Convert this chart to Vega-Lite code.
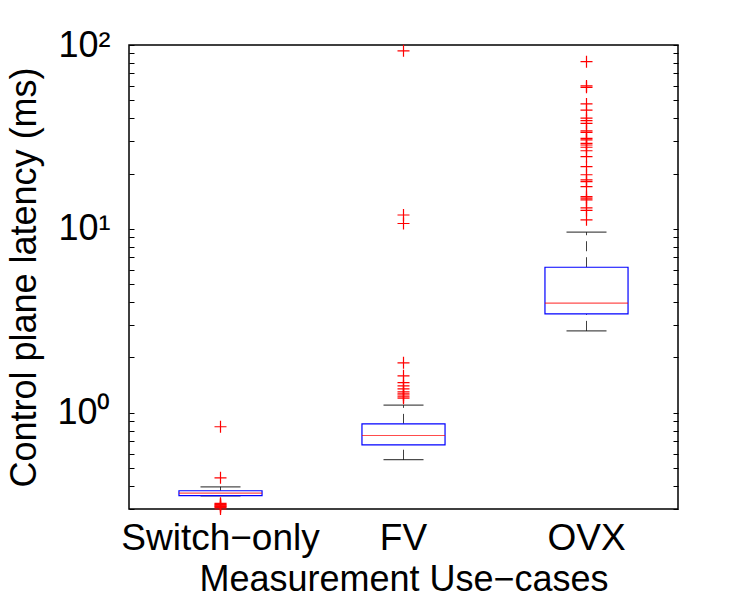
{
  "$schema": "https://vega.github.io/schema/vega-lite/v6.json",
  "autosize": {"type": "none"},
  "padding": {"left": 129, "top": 45, "right": 72, "bottom": 91},
  "width": 549,
  "height": 464,
  "background": "white",
  "config": {
    "font": "Liberation Sans",
    "view": {"stroke": "#000000", "strokeWidth": 1.5},
    "axis": {"grid": false, "domain": false, "labelColor": "#000", "titleColor": "#000", "labelFontWeight": "normal", "titleFontWeight": "normal"}
  },
  "datasets": {
    "stats": [
      {"cat": "Switch−only", "lo": 0.354, "q1": 0.355, "med": 0.366, "q3": 0.377, "hi": 0.396},
      {"cat": "FV", "lo": 0.556, "q1": 0.670, "med": 0.753, "q3": 0.871, "hi": 1.10},
      {"cat": "OVX", "lo": 2.79, "q1": 3.45, "med": 3.95, "q3": 6.19, "hi": 9.6}
    ],
    "out": [
      {"cat": "Switch−only", "v": 0.84},
      {"cat": "Switch−only", "v": 0.443},
      {"cat": "Switch−only", "v": 0.322},
      {"cat": "Switch−only", "v": 0.318},
      {"cat": "Switch−only", "v": 0.315},
      {"cat": "Switch−only", "v": 0.312},
      {"cat": "Switch−only", "v": 0.309},
      {"cat": "Switch−only", "v": 0.306},
      {"cat": "Switch−only", "v": 0.300},
      {"cat": "FV", "v": 93},
      {"cat": "FV", "v": 11.9},
      {"cat": "FV", "v": 10.7},
      {"cat": "FV", "v": 1.87},
      {"cat": "FV", "v": 1.59},
      {"cat": "FV", "v": 1.46},
      {"cat": "FV", "v": 1.40},
      {"cat": "FV", "v": 1.35},
      {"cat": "FV", "v": 1.30},
      {"cat": "FV", "v": 1.27},
      {"cat": "FV", "v": 1.25},
      {"cat": "FV", "v": 1.22},
      {"cat": "FV", "v": 1.20},
      {"cat": "OVX", "v": 81.2},
      {"cat": "OVX", "v": 59.9},
      {"cat": "OVX", "v": 58.9},
      {"cat": "OVX", "v": 47.8},
      {"cat": "OVX", "v": 44.3},
      {"cat": "OVX", "v": 40.0},
      {"cat": "OVX", "v": 38.8},
      {"cat": "OVX", "v": 37.5},
      {"cat": "OVX", "v": 34.1},
      {"cat": "OVX", "v": 33.5},
      {"cat": "OVX", "v": 31.1},
      {"cat": "OVX", "v": 30.5},
      {"cat": "OVX", "v": 29.2},
      {"cat": "OVX", "v": 28.6},
      {"cat": "OVX", "v": 27.8},
      {"cat": "OVX", "v": 26.6},
      {"cat": "OVX", "v": 24.7},
      {"cat": "OVX", "v": 21.8},
      {"cat": "OVX", "v": 19.7},
      {"cat": "OVX", "v": 18.5},
      {"cat": "OVX", "v": 18.1},
      {"cat": "OVX", "v": 17.0},
      {"cat": "OVX", "v": 15.0},
      {"cat": "OVX", "v": 14.7},
      {"cat": "OVX", "v": 14.4},
      {"cat": "OVX", "v": 13.0},
      {"cat": "OVX", "v": 12.6},
      {"cat": "OVX", "v": 11.2}
    ]
  },
  "encoding": {
    "x": {
      "field": "cat", "type": "nominal", "sort": ["Switch−only", "FV", "OVX"],
      "scale": {"type": "band", "paddingInner": 0.546, "paddingOuter": 0.273},
      "axis": {"title": "Measurement Use−cases", "labelAngle": 0, "ticks": false, "labelFontSize": 37, "titleFontSize": 36, "labelPadding": 11, "titlePadding": 6, "labelLimit": 0}
    }
  },
  "layer": [
    {
      "layer": [
        {
          "data": {"name": "stats"},
          "mark": {"type": "rule", "color": "#000000", "strokeDash": [10, 6], "strokeWidth": 1, "opacity": 0.75},
          "encoding": {
            "y": {"field": "lo", "type": "quantitative", "scale": {"type": "log", "domain": [0.3, 100], "nice": false},
              "axis": {"title": "Control plane latency (ms)", "titleFontSize": 36, "labelFontSize": 36, "titlePadding": 13, "labelPadding": 19,
                "values": [1, 10, 100],
                "labelExpr": "datum.value == 1 ? '10⁰' : datum.value == 10 ? '10¹' : '10²'",
                "ticks": false, "labelFlush": false, "labelOverlap": false}},
            "y2": {"field": "q1"}
          }
        },
        {
          "data": {"name": "stats"},
          "mark": {"type": "rule", "color": "#000000", "strokeDash": [10, 6], "strokeWidth": 1, "opacity": 0.75},
          "encoding": {
            "y": {"field": "q3", "type": "quantitative", "scale": {"type": "log", "domain": [0.3, 100], "nice": false}},
            "y2": {"field": "hi"}
          }
        },
        {
          "data": {"name": "stats"},
          "mark": {"type": "tick", "color": "#000000", "size": 40, "thickness": 1.2},
          "encoding": {"y": {"field": "lo", "type": "quantitative", "scale": {"type": "log", "domain": [0.3, 100], "nice": false}}}
        },
        {
          "data": {"name": "stats"},
          "mark": {"type": "tick", "color": "#000000", "size": 40, "thickness": 1.2},
          "encoding": {"y": {"field": "hi", "type": "quantitative", "scale": {"type": "log", "domain": [0.3, 100], "nice": false}}}
        },
        {
          "data": {"name": "stats"},
          "mark": {"type": "bar", "fill": "#ffffff", "stroke": "#0000ff", "strokeWidth": 1.2},
          "encoding": {
            "y": {"field": "q1", "type": "quantitative", "scale": {"type": "log", "domain": [0.3, 100], "nice": false}},
            "y2": {"field": "q3"}
          }
        },
        {
          "data": {"name": "stats"},
          "mark": {"type": "tick", "color": "#ff0000", "size": 83, "thickness": 1.2},
          "encoding": {"y": {"field": "med", "type": "quantitative", "scale": {"type": "log", "domain": [0.3, 100], "nice": false}}}
        },
        {
          "data": {"name": "out"},
          "mark": {"type": "point", "shape": "M-1,0H1M0,-1V1", "filled": false, "stroke": "#ff0000", "strokeWidth": 1.2, "size": 144, "opacity": 1, "clip": false},
          "encoding": {"y": {"field": "v", "type": "quantitative", "scale": {"type": "log", "domain": [0.3, 100], "nice": false}}}
        }
      ]
    },
    {
      "data": {"name": "out"},
      "mark": {"type": "point", "opacity": 0},
      "encoding": {"y": {"field": "v", "type": "quantitative", "scale": {"type": "log", "domain": [0.3, 100], "nice": false},
        "axis": {"orient": "left", "offset": -5, "title": null, "labels": false,
          "values": [0.3, 0.4, 0.5, 0.6, 0.7, 0.8, 0.9, 1, 2, 3, 4, 5, 6, 7, 8, 9, 10, 20, 30, 40, 50, 60, 70, 80, 90, 100],
          "tickSize": 5, "tickColor": "#000", "tickWidth": 1}}}
    },
    {
      "data": {"name": "out"},
      "mark": {"type": "point", "opacity": 0},
      "encoding": {"y": {"field": "v", "type": "quantitative", "scale": {"type": "log", "domain": [0.3, 100], "nice": false},
        "axis": {"orient": "right", "offset": -5, "title": null, "labels": false,
          "values": [0.3, 0.4, 0.5, 0.6, 0.7, 0.8, 0.9, 1, 2, 3, 4, 5, 6, 7, 8, 9, 10, 20, 30, 40, 50, 60, 70, 80, 90, 100],
          "tickSize": 5, "tickColor": "#000", "tickWidth": 1}}}
    }
  ],
  "resolve": {"axis": {"y": "independent"}}
}
